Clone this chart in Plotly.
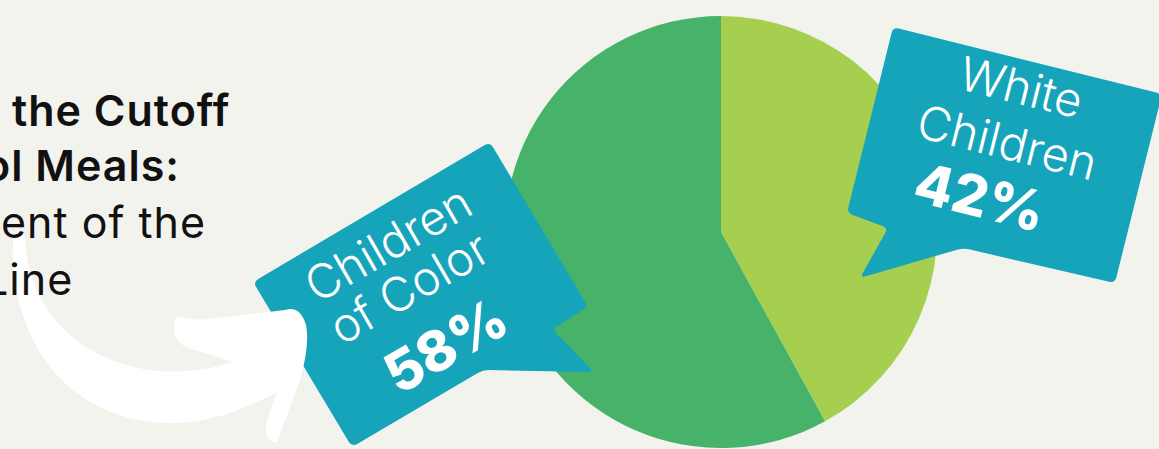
import plotly.graph_objects as go
import math

W, H = 1159, 449

# ---- data ----
labels = ["White Children", "Children of Color"]
label_lines = [["White", "Children"], ["Children", "of Color"]]
values = [42, 58]
colors = ["#a6cf4f", "#46b26a"]
title_lines = ["the Cutoff", "ol Meals:", "ent of the", "Line"]

BG = "#f3f3ee"
TEAL = "#16a4bb"
FONT = "Inter, Open Sans, sans-serif"
TFONT = "Inter, Open Sans, sans-serif"


def rounded_path(pts, r=6):
    n = len(pts)
    segs = []
    for i in range(n):
        p0 = pts[i - 1]
        p = pts[i]
        p1 = pts[(i + 1) % n]
        def unit(a, b):
            dx, dy = b[0] - a[0], b[1] - a[1]
            d = math.hypot(dx, dy)
            return dx / d, dy / d
        u0 = unit(p, p0)
        u1 = unit(p, p1)
        a = (p[0] + r * u0[0], p[1] + r * u0[1])
        b = (p[0] + r * u1[0], p[1] + r * u1[1])
        segs.append((a, p, b))
    d = f"M {segs[0][0][0]:.1f},{segs[0][0][1]:.1f} "
    for i, (a, p, b) in enumerate(segs):
        if i > 0:
            d += f"L {a[0]:.1f},{a[1]:.1f} "
        d += f"Q {p[0]:.1f},{p[1]:.1f} {b[0]:.1f},{b[1]:.1f} "
    return d + "Z"


fig = go.Figure()

cx, cy, R = 721, 232, 216
fig.add_trace(go.Pie(
    labels=labels, values=values, sort=False, direction="clockwise", rotation=0,
    marker=dict(colors=colors, line=dict(width=0)),
    textinfo="none", hoverinfo="label+percent", showlegend=False,
    domain=dict(x=[(cx - R) / W, (cx + R) / W], y=[(H - cy - R) / H, (H - cy + R) / H]),
))

# speech bubbles (pixel coordinates on hidden axes)
bubble_coc = [(490, 142), (588, 307), (552, 329), (594, 372), (483, 370), (352, 447), (253, 282)]
bubble_wh = [(893, 27), (1162, 94), (1115, 283), (963, 248), (860, 278), (888, 228), (847, 213)]

shapes = []
for pts in (bubble_coc, bubble_wh):
    shapes.append(dict(type="path", path=rounded_path(pts, 6), xref="x", yref="y",
                       fillcolor=TEAL, line=dict(width=0), layer="above"))

arrow = ("M 19,230 Q 12,236 13,245 C 10,330 60,420 167,423 C 205,424 245,410 277,392 "
         "L 267,420 Q 262,442 277,442 L 300,380 Q 310,345 306,325 Q 300,305 285,310 "
         "L 200,320 L 176,317 Q 168,342 192,349 L 233,362 C 130,395 30,340 25,240 "
         "Q 24,232 19,230 Z")
shapes.append(dict(type="path", path=arrow, xref="x", yref="y", fillcolor="white",
                   line=dict(width=0), layer="above"))

ann = []
# title fragments (left, partly cut)
title_pos = [(232, 110, 600, 43), (182, 165, 600, 43), (208, 222, 400, 43), (75, 279, 400, 43)]
for t, (x, y, wgt, sz) in zip(title_lines, title_pos):
    ann.append(dict(x=x, y=y, xref="x", yref="y",
                    text=f"<span style='letter-spacing:1px'>{t}</span>", showarrow=False,
                    xanchor="right", yanchor="middle",
                    font=dict(family=TFONT, size=sz, color="#111111", weight=wgt)))

# bubble texts
coc_pos = [(387, 243), (408, 287)]
for t, (x, y) in zip(label_lines[1], coc_pos):
    ann.append(dict(x=x, y=y, xref="x", yref="y", text=t, showarrow=False, textangle=-30,
                    xanchor="center", yanchor="middle",
                    font=dict(family=FONT, size=47, color="white", weight=300)))
ann.append(dict(x=445, y=346, xref="x", yref="y", text=f"{values[1]}%", showarrow=False,
                textangle=-30, xanchor="center", yanchor="middle",
                font=dict(family=FONT, size=56, color="white", weight=800)))

wh_pos = [(1021, 86), (1007, 141)]
for t, (x, y) in zip(label_lines[0], wh_pos):
    ann.append(dict(x=x, y=y, xref="x", yref="y", text=t, showarrow=False, textangle=14,
                    xanchor="center", yanchor="middle",
                    font=dict(family=FONT, size=47, color="white", weight=300)))
ann.append(dict(x=980, y=197, xref="x", yref="y", text=f"{values[0]}%", showarrow=False,
                textangle=14, xanchor="center", yanchor="middle",
                font=dict(family=FONT, size=56, color="white", weight=800)))

fig.update_layout(
    width=W, height=H, margin=dict(l=0, r=0, t=0, b=0),
    paper_bgcolor=BG, plot_bgcolor=BG,
    xaxis=dict(range=[0, W], visible=False, fixedrange=True, domain=[0, 1]),
    yaxis=dict(range=[H, 0], visible=False, fixedrange=True, domain=[0, 1]),
    shapes=shapes, annotations=ann,
)

fig.write_html("out.html", config={"displayModeBar": False},
               post_script="document.body.style.margin='0';document.body.style.background='#f3f3ee';")
